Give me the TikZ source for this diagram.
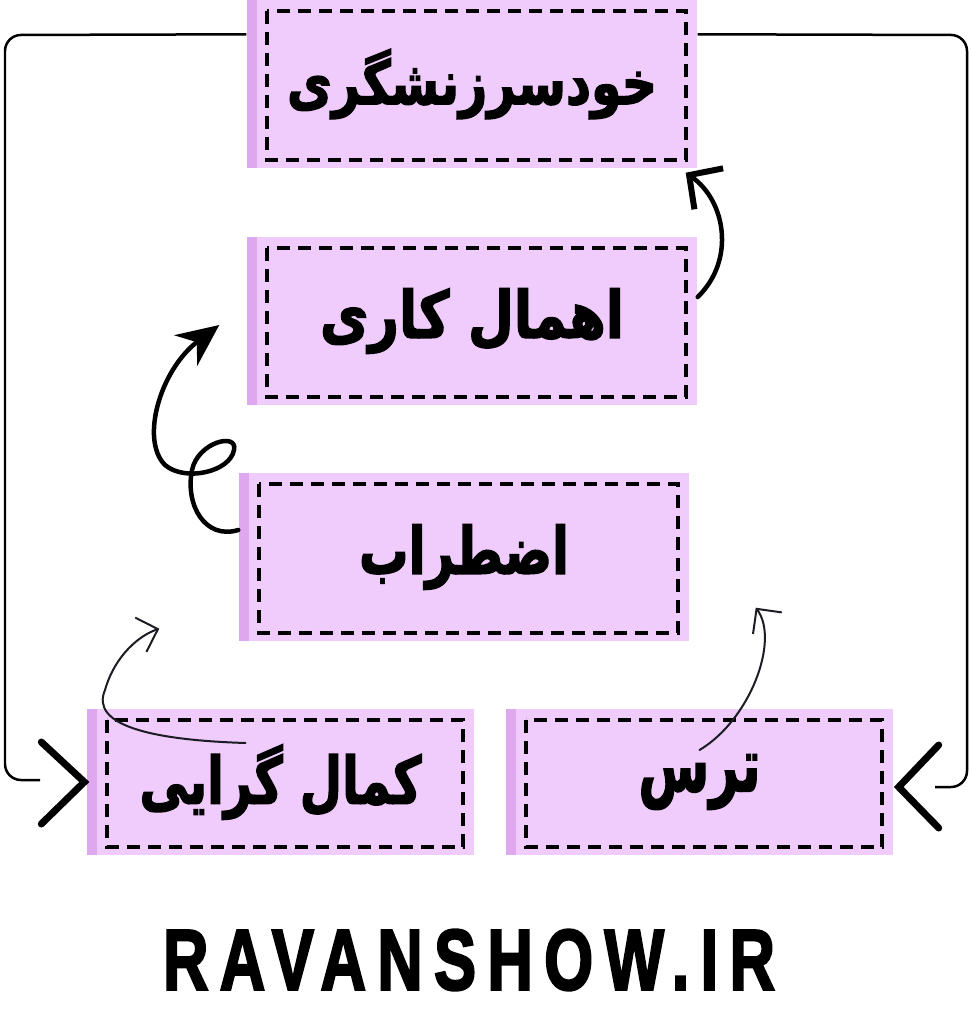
\documentclass[tikz,border=0pt]{standalone}
\usepackage{fontspec}
\usepackage{graphicx}
\setmainfont{Liberation Sans}
\newfontfamily\arabicfont[Script=Arabic,BoldFeatures={FakeBold=2.5}]{DejaVu Sans}
\newfontfamily\sitefont[LetterSpace=18,BoldFeatures={FakeBold=3}]{Liberation Sans}
\TeXXeTstate=1
\usetikzlibrary{arrows.meta}
\usetikzlibrary{positioning}
\definecolor{lavande}{HTML}{EFCCFB}
\definecolor{lavandefonce}{HTML}{DFA8EE}
\definecolor{encre}{HTML}{1C1C24}
\newcommand{\fatexte}[3]{\resizebox*{#1}{#2}{\arabicfont\bfseries #3}}

\begin{document}
\begin{tikzpicture}[x=0.1mm,y=-0.1mm]
% définition des paramètres
\tikzstyle pointillemichael=[color=black,line width=0.35mm,dash pattern=on 1.3mm off 0.8mm]
\tikzstyle boitemichael=[fill=lavande,inner sep=0pt,minimum width=45mm,minimum height=16.8mm,
  path picture={
    \fill[lavandefonce] (path picture bounding box.north west) rectangle ([xshift=1mm]path picture bounding box.south west);
    \draw[pointillemichael] ([xshift=2mm,yshift=-1.1mm]path picture bounding box.north west) rectangle ([xshift=-1.1mm,yshift=0.8mm]path picture bounding box.south east);
  }]
\tikzstyle petiteboitemichael=[boitemichael,minimum width=38.7mm,minimum height=14.6mm]
\tikzstyle lignemichael=[color=black,line width=0.25mm,rounded corners=1.6mm]
\tikzstyle chevronmichael=[color=black,line width=0.7mm,line cap=round,line join=miter]
\tikzstyle flechemichael=[color=black,line width=0.45mm,line cap=round]
\tikzstyle flechefinemichael=[color=encre,line width=0.2mm,line cap=round,-{Straight Barb[length=1.8mm,width=3.6mm]}]

\useasboundingbox (0,0) rectangle (971,1024);

% les boîtes
\node[boitemichael] (blame) at (472,84) {\raisebox{-0.5mm}{\fatexte{37mm}{7mm}{\beginR خودسرزنشگری\endR}}};
\node[boitemichael] (proc) at (472,321) {\fatexte{30.4mm}{6.5mm}{\beginR اهمال کاری\endR}};
\node[boitemichael] (anx) at (464,557) {\fatexte{21mm}{6.5mm}{\beginR اضطراب\endR}};
\node[petiteboitemichael] (perf) at (280.5,782) {\raisebox{-1mm}{\fatexte{28.2mm}{7.5mm}{\beginR کمال گرایی\endR}}};
\node[petiteboitemichael] (fear) at (699.5,782) {\raisebox{-1mm}{\fatexte{12.2mm}{5.5mm}{\beginR ترس\endR}}};

% le cadre extérieur
\coordinate (gauche) at (40,780);
\coordinate (droite) at (935,787);
\draw[lignemichael] ([yshift=-3.5mm]blame.north west) -- (5,35) -- (5,780) -- (gauche);
\draw[lignemichael] ([yshift=-3.5mm]blame.north east) -- (967,35) -- (967,787) -- (droite);
\draw[chevronmichael] ([xshift=-4.5mm,yshift=4mm]perf.west) -- ([xshift=-0.2mm]perf.west) -- ([xshift=-4.5mm,yshift=-4.2mm]perf.west);
\draw[chevronmichael] ([xshift=4.5mm,yshift=3.7mm]fear.east) -- ([xshift=0.5mm,yshift=-0.5mm]fear.east) -- ([xshift=4.5mm,yshift=-4.6mm]fear.east);

% les flèches
\draw[flechemichael,-{Straight Barb[length=2.4mm,width=5mm,line width=0.6mm]}] ([yshift=2.4mm]proc.east) .. controls +(38,-37) and +(40,28) .. ([xshift=-1.2mm,yshift=-0.4mm]blame.south east);
\draw[flechemichael,-{Stealth[length=4.2mm,width=3.8mm]}] ([yshift=2.7mm]anx.west) .. controls (205,540) and (185,505) .. (192,470) .. controls (198,442) and (238,432) .. (234,450) .. controls (230,472) and (185,482) .. (165,465) .. controls (140,440) and (160,370) .. ([xshift=-2.7mm,yshift=-0.4mm]proc.west);
\draw[flechefinemichael] ([xshift=-3.5mm,yshift=3.9mm]perf.center) .. controls (150,740) and (90,725) .. (105,690) .. controls (115,655) and (140,635) .. ([xshift=-7.9mm,yshift=1.3mm]anx.south west);
\draw[flechefinemichael] ([yshift=3.2mm]fear.center) .. controls (750,720) and (780,640) .. ([xshift=6.6mm,yshift=3.4mm]anx.south east);

% le site
\node (site) at (469,960) {\resizebox{61.2mm}{6mm}{\sitefont\bfseries RAVANSHOW.IR}};
\end{tikzpicture}
\end{document}
